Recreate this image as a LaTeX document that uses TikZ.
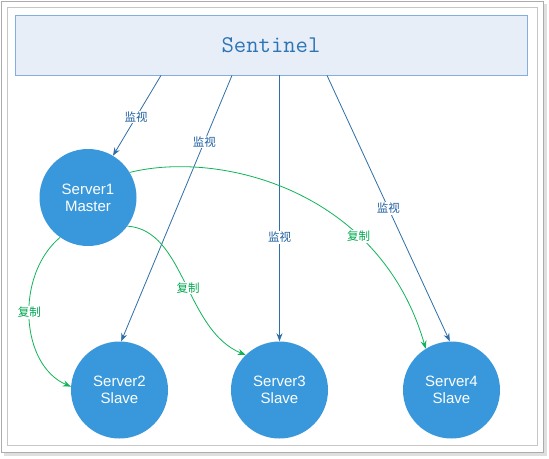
\documentclass[tikz,border=0pt]{standalone}
\usepackage{fontspec}
\setmainfont{Liberation Sans}
\newfontfamily\cjk{Noto Sans CJK SC}
\usetikzlibrary{arrows.meta,calc}
\definecolor{sentfill}{HTML}{E8EEF8}
\definecolor{sentdraw}{HTML}{85ADDE}
\definecolor{senttext}{HTML}{2E75B6}
\definecolor{nodefill}{HTML}{3898DB}
\definecolor{monline}{HTML}{2F6EA8}
\definecolor{monlabel}{HTML}{1F5F9E}
\definecolor{repline}{HTML}{10B458}
\definecolor{replabel}{HTML}{00A850}
\tikzset{
  sentbox/.style={draw=sentdraw, fill=sentfill, line width=0.8pt, minimum width=512pt, minimum height=60pt, inner sep=0pt, text=senttext, font=\ttfamily\fontsize{24}{24}\selectfont},
  server/.style={circle, fill=nodefill, minimum size=97pt, inner sep=0pt, text=white, align=center, font=\fontsize{15}{17}\selectfont},
  monitor/.style={draw=monline, line width=0.8pt, -{Stealth[length=8pt,width=6pt]}},
  replicate/.style={draw=repline, line width=0.8pt, -{Stealth[length=8pt,width=6pt]}},
  monlbl/.style={fill=white, inner sep=1pt, text=monlabel, font=\cjk\fontsize{11.5}{12}\selectfont},
  replbl/.style={fill=white, inner sep=1pt, text=replabel, font=\cjk\fontsize{11.5}{12}\selectfont}
}
\begin{document}
\begin{tikzpicture}[x=1pt,y=-1pt]
\useasboundingbox (0,0) rectangle (549,458);
\fill[gray!25] (4,4) rectangle (547,456);
\draw[fill=white, draw=gray!65, line width=1pt] (1,1) rectangle (543,452);
\draw[gray!45, line width=1pt] (7,7) rectangle (537,445);

\node[sentbox] (sent) at (271,45) {Sentinel};
\node[server] (s1) at (88,197.5) {Server1\\Master};
\node[server] (s2) at (119.5,390) {Server2\\Slave};
\node[server] (s3) at (279.5,390) {Server3\\Slave};
\node[server] (s4) at (451.5,390) {Server4\\Slave};

\draw[monitor] ([xshift=-110pt]sent.south) -- (s1) node[monlbl, pos=0.52] {监视};
\draw[monitor] ([xshift=-39pt]sent.south) -- (s2.88) node[monlbl, pos=0.25] {监视};
\draw[monitor] (sent.south -| s3) -- (s3.north) node[monlbl, pos=0.61] {监视};
\draw[monitor] ([xshift=56pt]sent.south) -- (s4.92) node[monlbl, pos=0.5] {监视};

\draw[replicate] (s1.235) .. controls (15,275) and (20,365) .. (s2.176) node[replbl, pos=0.47] {复制};
\draw[replicate] (s1.-36) .. controls (185,230) and (185,330) .. (s3.134) node[replbl, pos=0.53] {复制};
\draw[replicate] (s1.31) .. controls (220,150) and (380,190) .. (s4.122) node[replbl, pos=0.7] {复制};
\end{tikzpicture}
\end{document}
